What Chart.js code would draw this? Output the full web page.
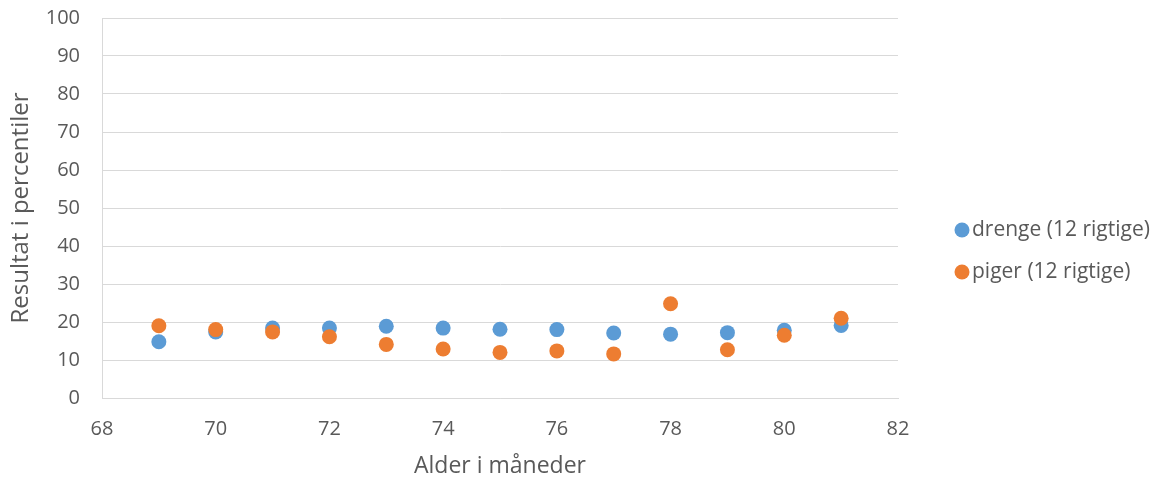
<!DOCTYPE html>
<html>
<head>
<meta charset="utf-8">
<script src="https://cdn.jsdelivr.net/npm/chart.js@4.4.1/dist/chart.umd.min.js"></script>
<style>
  html, body { margin: 0; padding: 0; background: #fff; }
  #wrap { width: 1160px; height: 484px; position: relative; }
</style>
</head>
<body>
<div id="wrap"><canvas id="scatterChart"></canvas></div>
<script>
const AGES = [69, 70, 71, 72, 73, 74, 75, 76, 77, 78, 79, 80, 81];
const BOYS = [14.8, 17.4, 18.4, 18.4, 18.9, 18.4, 18.1, 18.0, 17.1, 16.8, 17.2, 17.8, 19.1];
const GIRLS = [19.0, 18.0, 17.4, 16.1, 14.1, 12.9, 12.0, 12.4, 11.6, 24.8, 12.7, 16.5, 21.0];
const SERIES_LABELS = ['drenge (12 rigtige)', 'piger (12 rigtige)'];
const X_TICKS = [68, 70, 72, 74, 76, 78, 80, 82];
const Y_TICKS = [0, 10, 20, 30, 40, 50, 60, 70, 80, 90, 100];

const COLORS = {
    boys: '#5B9BD5',
    girls: '#ED7D31',
    grid: '#d9d9d9',
    text: '#595959'
};
const FONT = '"Open Sans", "Liberation Sans", sans-serif';

function toPoints(xs, ys) {
    return xs.map((x, i) => ({ x, y: ys[i] }));
}

// legend drawn by hand so it sits where the original one does
const sideLegend = {
    id: 'sideLegend',
    afterDraw(chart) {
        const ctx = chart.ctx;
        ctx.save();
        ctx.font = '21px ' + FONT;
        ctx.textBaseline = 'middle';
        [0, 1].forEach((idx, row) => {
            const ds = chart.data.datasets.find(d => d.legendIndex === idx);
            const y = 230 + row * 42;
            ctx.fillStyle = ds.backgroundColor;
            ctx.beginPath();
            ctx.arc(962, y, 7.5, 0, Math.PI * 2);
            ctx.fill();
            ctx.fillStyle = COLORS.text;
            ctx.fillText(ds.label, 972, y);
        });
        ctx.restore();
    }
};

const ctx = document.getElementById('scatterChart').getContext('2d');
new Chart(ctx, {
    type: 'scatter',
    data: {
        datasets: [
            {
                label: SERIES_LABELS[1],
                legendIndex: 1,
                data: toPoints(AGES, GIRLS),
                backgroundColor: COLORS.girls,
                borderWidth: 0,
                pointRadius: 7.5,
                pointHoverRadius: 7.5
            },
            {
                label: SERIES_LABELS[0],
                legendIndex: 0,
                data: toPoints(AGES, BOYS),
                backgroundColor: COLORS.boys,
                borderWidth: 0,
                pointRadius: 7.5,
                pointHoverRadius: 7.5
            }
        ]
    },
    options: {
        responsive: true,
        maintainAspectRatio: false,
        animation: false,
        layout: { padding: { top: 18, right: 262, left: 0, bottom: 0 } },
        plugins: {
            legend: { display: false },
            tooltip: { enabled: false }
        },
        scales: {
            x: {
                type: 'linear',
                min: 68,
                max: 82,
                afterBuildTicks: (scale) => { scale.ticks = X_TICKS.map(v => ({ value: v })); },
                afterFit: (scale) => { scale.height = 86; },
                grid: { display: false },
                border: { display: true, color: COLORS.grid, width: 1 },
                ticks: { color: COLORS.text, font: { family: FONT, size: 20 }, padding: 11, maxRotation: 0 },
                title: {
                    display: true,
                    text: 'Alder i måneder',
                    color: COLORS.text,
                    font: { family: FONT, size: 23 },
                    padding: { top: 4 }
                }
            },
            y: {
                min: 0,
                max: 100,
                afterBuildTicks: (scale) => { scale.ticks = Y_TICKS.map(v => ({ value: v })); },
                afterFit: (scale) => {
                    scale.width = 102;
                    scale.paddingTop = 0;
                    scale.paddingBottom = 0;
                },
                grid: { color: COLORS.grid, lineWidth: 1, drawTicks: false },
                border: { display: true, color: COLORS.grid, width: 1 },
                ticks: { color: COLORS.text, font: { family: FONT, size: 20 }, padding: 22 },
                title: {
                    display: true,
                    text: 'Resultat i percentiler',
                    color: COLORS.text,
                    font: { family: FONT, size: 24 },
                    padding: { top: 7, bottom: 0 }
                }
            }
        }
    },
    plugins: [sideLegend]
});
</script>
</body>
</html>
